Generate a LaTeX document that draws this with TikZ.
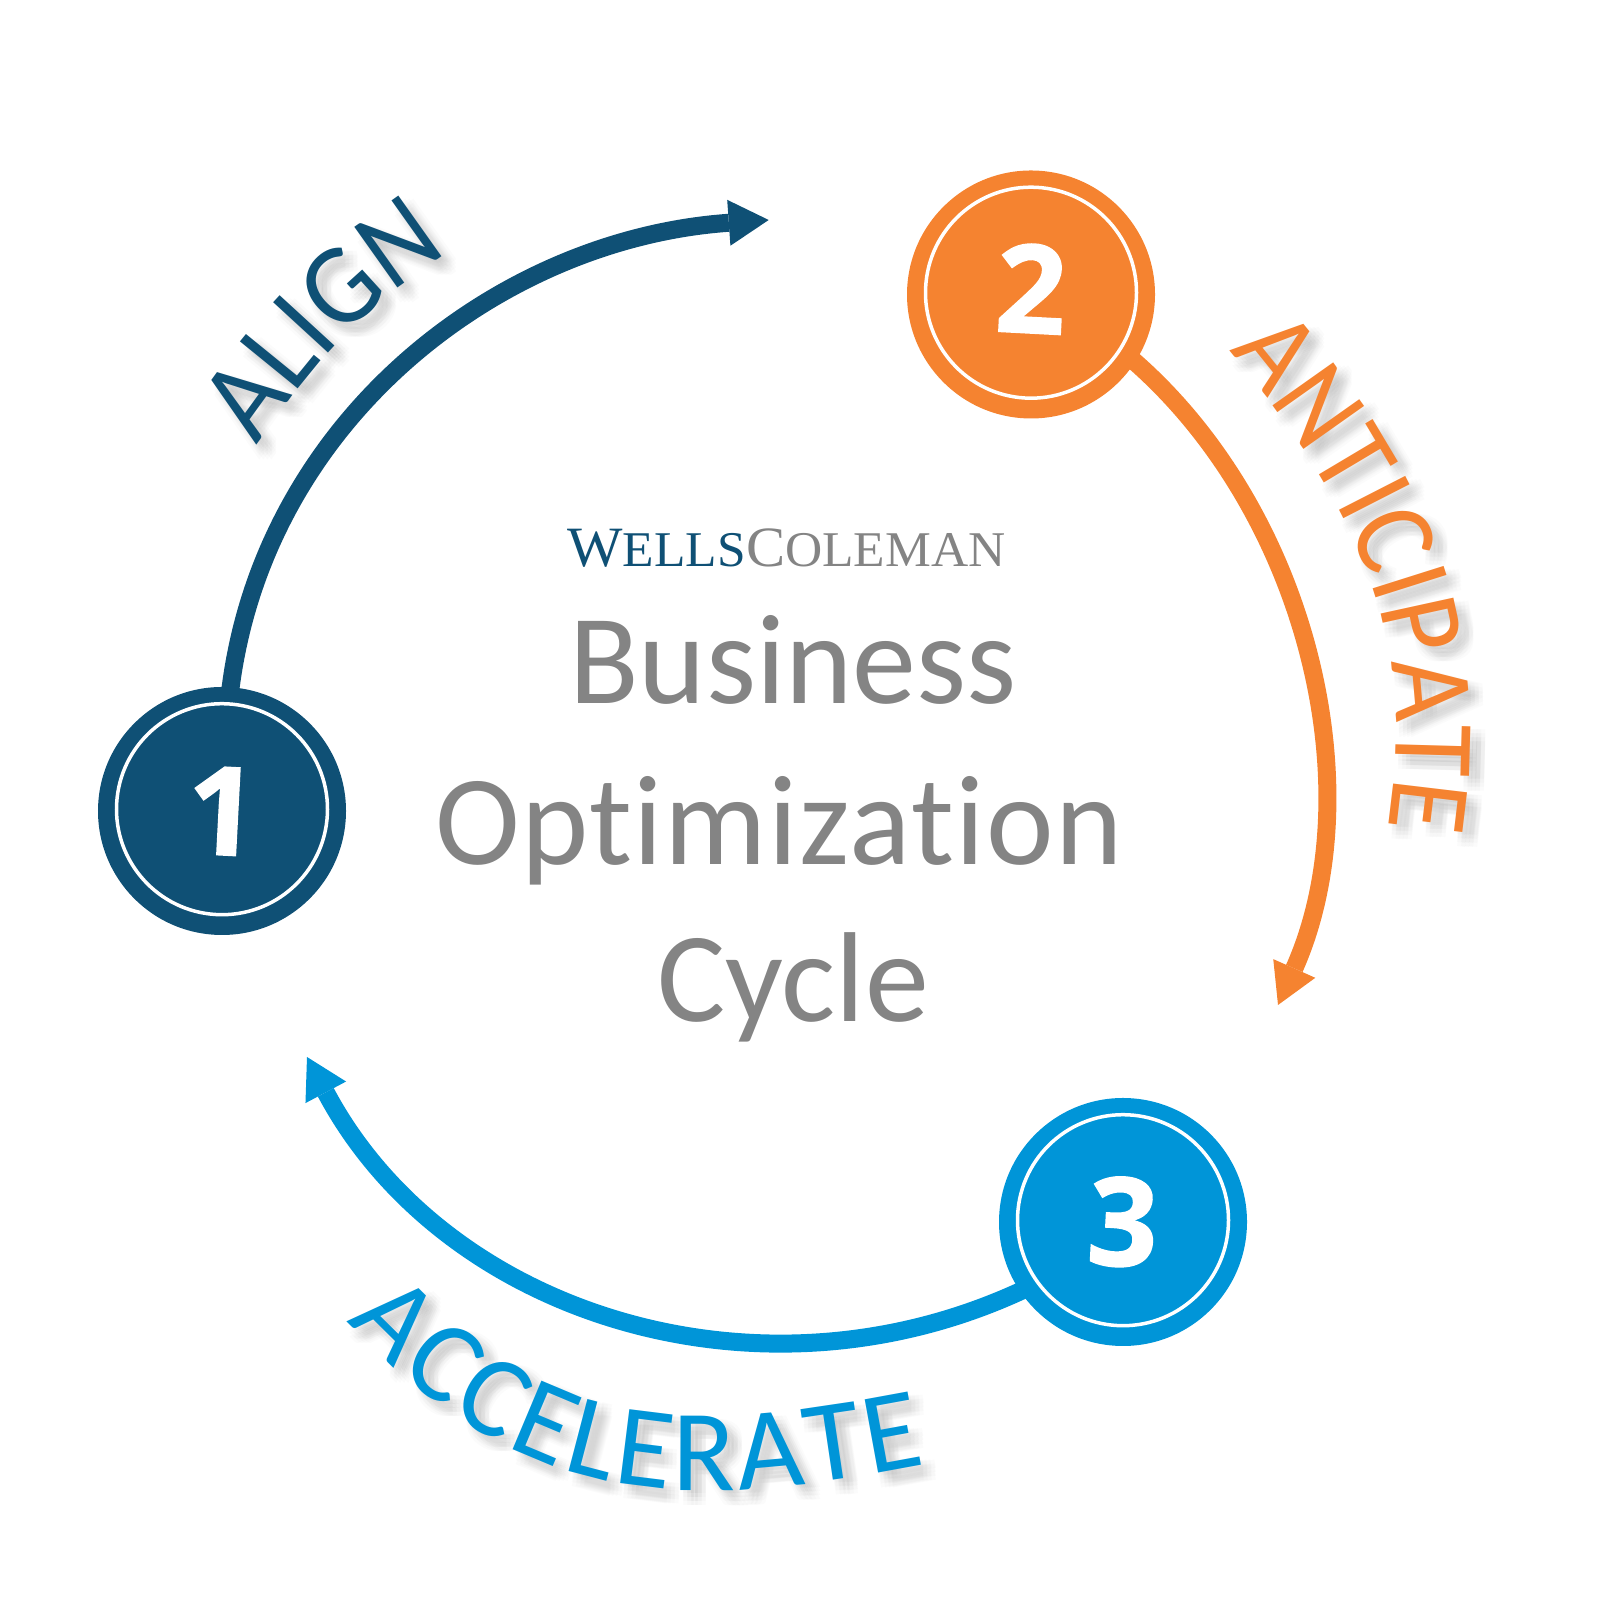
\documentclass[tikz,border=0pt]{standalone}
\usepackage{fontspec}
\usetikzlibrary{arrows.meta,decorations.text}
\setmainfont{Carlito}[Ligatures=CommonOff]
\newfontfamily\digitfont{Open Sans}[BoldFeatures={FakeBold=1.2}]
\newfontfamily\logofont{Liberation Serif}[FakeStretch=1.03]
\newfontfamily\alignfamily{Carlito}[FakeStretch=0.93]
\newfontfamily\anticipatefamily{Carlito}[FakeStretch=0.92]
\newfontfamily\acceleratefamily{Carlito}
\newcommand{\labelsize}{\fontsize{116}{116}\selectfont}
\newcommand{\titlesize}{\fontsize{128}{128}\selectfont}
\definecolor{alignblue}{HTML}{0F5075}
\definecolor{anticipateorange}{HTML}{F58330}
\definecolor{acceleratecyan}{HTML}{0095D8}
\definecolor{titlegray}{HTML}{848484}
\tikzset{
  numring/.style={circle,fill=#1,minimum size=248pt,inner sep=0pt,rotate=-3,text=white,
    font=\digitfont\bfseries\fontsize{123}{123}\selectfont,
    path picture={\draw[white,line width=3.5pt] (path picture bounding box.center) circle (105.5pt);}},
  cyclearrow/.style={draw=#1,line width=18pt,shorten <=-4pt,
    -{Triangle[length=40pt,width=46pt,line width=0pt,color=#1,fill=#1]}},
  titletext/.style={anchor=base,text=titlegray,font=\titlesize},
}
% curved word with its soft shadow: colour, font, word, start, to options, end
\newcommand{\curvelabel}[6]{%
  \foreach \offx in {3,7,11,15}{\foreach \offy in {-3,-7,-11,-15}{
    \begin{scope}[opacity=.016]
    \path[decorate,
      decoration={text along path,text align=fit to path,text color=black,text={|#2\labelsize|#3}}]
      ([shift={(\offx,\offy)}]#4) to[#5] ([shift={(\offx,\offy)}]#6);
    \end{scope}
  }}
  \path[decorate,decoration={text along path,text align=fit to path,text color=#1,text={|#2\labelsize|#3}}]
    (#4) to[#5] (#6);
}

\begin{document}
\begin{tikzpicture}[x=1pt,y=1pt]
\useasboundingbox (0,0) rectangle (1600,1600);

% curved words
\coordinate (alignstart) at (257,1154);
\coordinate (alignend) at (449,1347);
\coordinate (anticipatestart) at (1229,1249);
\coordinate (anticipateend) at (1388,772);
\coordinate (acceleratestart) at (347,279);
\coordinate (accelerateend) at (926,136);
\curvelabel{alignblue}{\alignfamily}{ALIGN}{alignstart}{out=55,in=213}{alignend}
\curvelabel{anticipateorange}{\anticipatefamily}{ANTICIPATE}{anticipatestart}{out=-50,in=81}{anticipateend}
\curvelabel{acceleratecyan}{\acceleratefamily}{ACCELERATE}{acceleratestart}{out=-47,in=191,looseness=1.1}{accelerateend}

% step circles
\node[numring=alignblue] (num1) at (222,789) {1};
\node[numring=anticipateorange] (num2) at (1031,1305.5) {\raisebox{12pt}{2}};
\node[numring=acceleratecyan] (num3) at (1123,378) {3};

% arrow ends
\coordinate (aligntip) at (768.7,1380);
\coordinate (anticipatetip) at (1278,595);
\coordinate (acceleratetip) at (307,543);

\draw[cyclearrow=alignblue] (num1.89) to[out=83,in=184,looseness=.97] (aligntip);
\draw[cyclearrow=anticipateorange] (num2.-30) to[out=-41,in=66,looseness=.9] (anticipatetip);
\draw[cyclearrow=acceleratecyan] (num3.217) to[out=205,in=298,looseness=.99] (acceleratetip);

% centre
\node[anchor=base,font=\logofont] (logo) at (786.5,1033.3) {%
  \textcolor{alignblue}{\fontsize{57}{57}\selectfont W\fontsize{50}{50}\selectfont ELLS}%
  \textcolor{titlegray}{\fontsize{57}{57}\selectfont C\fontsize{50}{50}\selectfont OLEMAN}};
\node[titletext] (business) at (793,896) {Business};
\node[titletext] (optimization) at (779,735) {\addfontfeature{LetterSpace=1.2}Optimization};
\node[titletext] (cycle) at (793,578) {Cycle};
\end{tikzpicture}
\end{document}
